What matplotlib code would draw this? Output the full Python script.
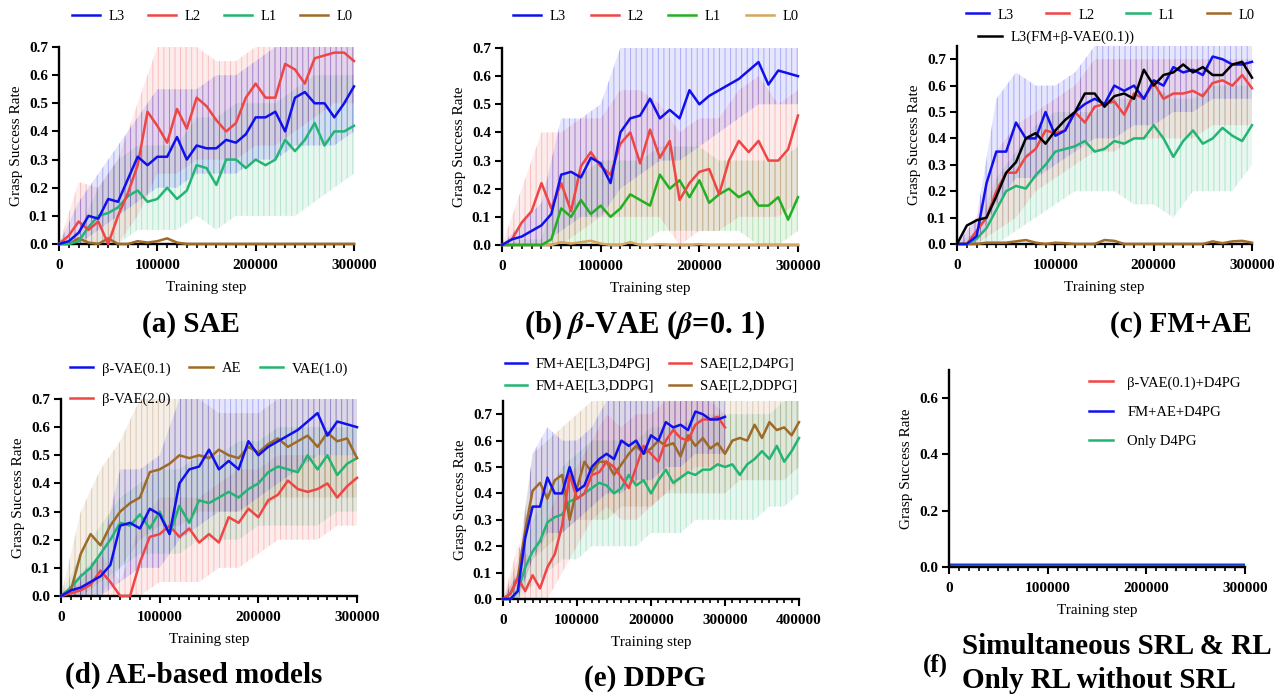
import matplotlib
matplotlib.use("Agg")
import matplotlib.pyplot as plt
import matplotlib.colors as mcolors
import numpy as np
from matplotlib.ticker import MultipleLocator, FormatStrFormatter

plt.rcParams['font.family'] = ['Liberation Serif', 'DejaVu Serif']
plt.rcParams['font.weight'] = 'bold'
plt.rcParams['mathtext.fontset'] = 'stix'
plt.rcParams['hatch.linewidth'] = 0.7

BLUE = '#1010EE'
RED = '#F04545'
GREEN = '#22B573'
GREEN_B = '#22B022'
BROWN = '#9E6A26'
TAN = '#D6A560'
BLACK = '#000000'

# sample grids (training steps)
STEPS_300 = np.arange(0, 300001, 10000)
STEPS_400 = np.arange(0, 400001, 10000)
RAW_300 = np.arange(0, 300001, 20000)
RAW_400 = np.arange(0, 400001, 20000)

# (a) SAE
A_L3 = [0.00, 0.01, 0.04, 0.10, 0.09, 0.16, 0.15, 0.23, 0.31, 0.28, 0.31, 0.31, 0.38, 0.30, 0.35, 0.34,
        0.34, 0.37, 0.36, 0.39, 0.45, 0.45, 0.47, 0.40, 0.52, 0.54, 0.50, 0.50, 0.45, 0.50, 0.56]
A_L2 = [0.00, 0.03, 0.08, 0.05, 0.08, 0.00, 0.10, 0.18, 0.28, 0.47, 0.42, 0.36, 0.48, 0.41, 0.52, 0.49,
        0.44, 0.40, 0.43, 0.52, 0.57, 0.52, 0.52, 0.64, 0.62, 0.57, 0.66, 0.67, 0.68, 0.68, 0.65]
A_L1 = [0.00, 0.00, 0.01, 0.06, 0.10, 0.11, 0.13, 0.17, 0.19, 0.15, 0.16, 0.20, 0.16, 0.19, 0.28, 0.27,
        0.21, 0.30, 0.30, 0.27, 0.30, 0.28, 0.30, 0.37, 0.33, 0.37, 0.43, 0.35, 0.40, 0.40, 0.42]
A_L0 = [0.00, 0.00, 0.02, 0.005, 0.00, 0.02, 0.00, 0.00, 0.01, 0.005, 0.01, 0.02, 0.005, 0.00, 0.00, 0.00,
        0.00, 0.00, 0.00, 0.00, 0.00, 0.00, 0.00, 0.00, 0.00, 0.00, 0.00, 0.00, 0.00, 0.00, 0.00]
A_L3_LO = [0, 0, 0.05, 0.10, 0.15, 0.20, 0.20, 0.25, 0.25, 0.25, 0.30, 0.30, 0.35, 0.35, 0.35, 0.40]
A_L3_HI = [0, 0.15, 0.25, 0.35, 0.45, 0.55, 0.55, 0.55, 0.60, 0.60, 0.65, 0.70, 0.70, 0.70, 0.70, 0.70]
A_L2_LO = [0, 0, 0, 0, 0.10, 0.25, 0.25, 0.30, 0.30, 0.30, 0.35, 0.35, 0.40, 0.45, 0.50, 0.50]
A_L2_HI = [0, 0.22, 0.20, 0.30, 0.50, 0.70, 0.70, 0.70, 0.65, 0.65, 0.70, 0.70, 0.70, 0.70, 0.70, 0.70]
A_L1_LO = [0, 0, 0, 0, 0.05, 0.05, 0.05, 0.10, 0.05, 0.10, 0.10, 0.10, 0.10, 0.15, 0.20, 0.25]
A_L1_HI = [0, 0.05, 0.20, 0.30, 0.35, 0.35, 0.35, 0.45, 0.45, 0.50, 0.50, 0.50, 0.55, 0.60, 0.60, 0.60]

# (b) beta-VAE (0.1)
B_L3 = [0.00, 0.02, 0.03, 0.05, 0.07, 0.11, 0.25, 0.26, 0.24, 0.31, 0.29, 0.22, 0.40, 0.45, 0.46, 0.52,
        0.45, 0.48, 0.45, 0.55, 0.50, 0.53, 0.55, 0.57, 0.59, 0.62, 0.65, 0.57, 0.62, 0.61, 0.60]
B_L2 = [0.00, 0.02, 0.08, 0.12, 0.22, 0.13, 0.22, 0.12, 0.28, 0.33, 0.28, 0.25, 0.36, 0.40, 0.29, 0.41,
        0.31, 0.37, 0.16, 0.22, 0.26, 0.27, 0.18, 0.30, 0.37, 0.33, 0.37, 0.30, 0.30, 0.34, 0.46]
B_L1 = [0.00, 0.00, 0.00, 0.00, 0.00, 0.02, 0.13, 0.10, 0.16, 0.11, 0.14, 0.10, 0.13, 0.18, 0.16, 0.14,
        0.25, 0.20, 0.23, 0.17, 0.23, 0.15, 0.18, 0.20, 0.17, 0.19, 0.14, 0.14, 0.17, 0.09, 0.17]
B_L0 = [0.00, 0.00, 0.00, 0.00, 0.00, 0.00, 0.01, 0.005, 0.01, 0.015, 0.005, 0.00, 0.00, 0.01, 0.00, 0.00,
        0.003, 0.00, 0.00, 0.00, 0.003, 0.00, 0.00, 0.00, 0.00, 0.00, 0.00, 0.00, 0.00, 0.00, 0.00]
B_L3_LO = [0, 0, 0, 0.05, 0.10, 0.10, 0.20, 0.25, 0.30, 0.30, 0.35, 0.40, 0.45, 0.50, 0.50, 0.50]
B_L3_HI = [0, 0.08, 0.15, 0.45, 0.45, 0.50, 0.70, 0.70, 0.70, 0.70, 0.70, 0.70, 0.70, 0.70, 0.70, 0.70]
B_L2_LO = [0, 0, 0, 0, 0.05, 0.10, 0.10, 0.10, 0.10, 0.00, 0.05, 0.05, 0.10, 0.10, 0.10, 0.15]
B_L2_HI = [0, 0.20, 0.40, 0.40, 0.45, 0.45, 0.55, 0.55, 0.50, 0.40, 0.45, 0.45, 0.55, 0.60, 0.50, 0.55]
B_L1_LO = [0, 0, 0, 0, 0, 0, 0, 0, 0.05, 0.05, 0.05, 0.05, 0.05, 0.00, 0.00, 0.05]
B_L1_HI = [0, 0.02, 0.02, 0.25, 0.25, 0.30, 0.30, 0.30, 0.35, 0.35, 0.35, 0.30, 0.30, 0.30, 0.30, 0.35]

# (c) FM+AE
C_L3 = [0.00, 0.00, 0.03, 0.23, 0.35, 0.35, 0.46, 0.40, 0.40, 0.50, 0.41, 0.43, 0.50, 0.53, 0.55, 0.53,
        0.60, 0.58, 0.60, 0.55, 0.62, 0.60, 0.67, 0.65, 0.66, 0.64, 0.71, 0.70, 0.68, 0.68, 0.69]
C_L2 = [0.00, 0.00, 0.05, 0.10, 0.20, 0.27, 0.27, 0.33, 0.36, 0.43, 0.42, 0.43, 0.50, 0.46, 0.52, 0.53,
        0.54, 0.49, 0.57, 0.55, 0.61, 0.55, 0.57, 0.57, 0.58, 0.56, 0.61, 0.62, 0.60, 0.64, 0.59]
C_L1 = [0.00, 0.00, 0.02, 0.06, 0.13, 0.20, 0.22, 0.21, 0.26, 0.30, 0.35, 0.36, 0.37, 0.39, 0.35, 0.36,
        0.39, 0.38, 0.40, 0.40, 0.45, 0.40, 0.33, 0.39, 0.43, 0.38, 0.40, 0.44, 0.41, 0.39, 0.45]
C_L0 = [0.00, 0.00, 0.00, 0.005, 0.005, 0.005, 0.01, 0.015, 0.005, 0.00, 0.005, 0.003, 0.00, 0.00, 0.00, 0.015,
        0.012, 0.00, 0.00, 0.00, 0.00, 0.00, 0.00, 0.00, 0.00, 0.00, 0.01, 0.003, 0.01, 0.012, 0.005]
C_FMB = [0.00, 0.07, 0.09, 0.10, 0.18, 0.27, 0.31, 0.40, 0.42, 0.38, 0.43, 0.47, 0.50, 0.57, 0.57, 0.52,
         0.56, 0.57, 0.55, 0.66, 0.60, 0.64, 0.65, 0.68, 0.65, 0.67, 0.64, 0.64, 0.68, 0.69, 0.63]
C_L3_LO = [0, 0, 0.15, 0.25, 0.25, 0.30, 0.35, 0.40, 0.40, 0.45, 0.45, 0.50, 0.50, 0.55, 0.55, 0.55]
C_L3_HI = [0, 0.10, 0.55, 0.65, 0.60, 0.60, 0.65, 0.75, 0.75, 0.75, 0.75, 0.75, 0.75, 0.75, 0.75, 0.75]
C_L2_LO = [0, 0, 0.05, 0.10, 0.20, 0.25, 0.30, 0.35, 0.35, 0.40, 0.40, 0.40, 0.40, 0.45, 0.45, 0.45]
C_L2_HI = [0, 0.10, 0.35, 0.45, 0.50, 0.55, 0.60, 0.70, 0.70, 0.70, 0.70, 0.70, 0.70, 0.70, 0.70, 0.70]
C_L1_LO = [0, 0, 0, 0.05, 0.10, 0.15, 0.20, 0.20, 0.20, 0.15, 0.15, 0.10, 0.20, 0.20, 0.20, 0.30]
C_L1_HI = [0, 0.05, 0.25, 0.35, 0.45, 0.50, 0.50, 0.50, 0.55, 0.55, 0.60, 0.55, 0.55, 0.60, 0.60, 0.60]

# (d) AE-based models
D_BETA01 = B_L3
D_AE = [0.00, 0.02, 0.15, 0.22, 0.18, 0.25, 0.30, 0.33, 0.35, 0.44, 0.45, 0.47, 0.50, 0.49, 0.50, 0.49,
        0.52, 0.50, 0.49, 0.53, 0.51, 0.54, 0.56, 0.53, 0.55, 0.57, 0.53, 0.58, 0.55, 0.56, 0.49]
D_VAE = [0.00, 0.03, 0.07, 0.10, 0.15, 0.20, 0.26, 0.25, 0.29, 0.24, 0.30, 0.22, 0.32, 0.26, 0.34, 0.33,
         0.35, 0.37, 0.35, 0.38, 0.40, 0.44, 0.46, 0.45, 0.44, 0.50, 0.45, 0.50, 0.43, 0.47, 0.49]
D_BETA20 = [0.00, 0.01, 0.02, 0.04, 0.09, 0.05, 0.00, 0.00, 0.12, 0.21, 0.22, 0.25, 0.21, 0.24, 0.19, 0.22,
            0.19, 0.28, 0.26, 0.31, 0.28, 0.34, 0.36, 0.41, 0.38, 0.37, 0.38, 0.40, 0.35, 0.39, 0.42]
D_AE_LO = [0, 0, 0.05, 0.10, 0.20, 0.25, 0.25, 0.30, 0.30, 0.30, 0.30, 0.35, 0.35, 0.35, 0.35, 0.35]
D_AE_HI = [0, 0.30, 0.45, 0.55, 0.70, 0.70, 0.70, 0.70, 0.65, 0.65, 0.65, 0.70, 0.70, 0.70, 0.70, 0.70]
D_VAE_LO = [0, 0, 0, 0.10, 0.15, 0.15, 0.15, 0.20, 0.20, 0.20, 0.25, 0.25, 0.25, 0.25, 0.30, 0.30]
D_VAE_HI = [0, 0.15, 0.25, 0.35, 0.40, 0.45, 0.45, 0.50, 0.50, 0.55, 0.55, 0.60, 0.60, 0.60, 0.60, 0.60]
D_B20_LO = [0, 0, 0, 0, 0, 0.05, 0.05, 0.05, 0.10, 0.10, 0.15, 0.20, 0.20, 0.20, 0.25, 0.25]
D_B20_HI = [0, 0.05, 0.15, 0.05, 0.25, 0.35, 0.35, 0.35, 0.40, 0.45, 0.45, 0.50, 0.50, 0.50, 0.50, 0.50]

# (e) DDPG
E_FMAE_D4PG = C_L3
E_SAE_D4PG = [0.00, 0.02, 0.08, 0.03, 0.09, 0.04, 0.12, 0.17, 0.28, 0.47, 0.38, 0.40, 0.47, 0.48, 0.52, 0.50,
              0.46, 0.42, 0.50, 0.58, 0.55, 0.52, 0.60, 0.64, 0.61, 0.60, 0.66, 0.68, 0.68, 0.69, 0.65]
E_FMAE_DDPG = [0.00, 0.00, 0.03, 0.12, 0.18, 0.22, 0.29, 0.31, 0.32, 0.37,
               0.38, 0.40, 0.42, 0.44, 0.43, 0.40, 0.42, 0.47, 0.43, 0.45,
               0.40, 0.45, 0.49, 0.44, 0.46, 0.48, 0.47, 0.49, 0.49, 0.51,
               0.50, 0.51, 0.47, 0.51, 0.53, 0.56, 0.53, 0.58, 0.52, 0.56, 0.61]
E_SAE_DDPG = [0.00, 0.02, 0.08, 0.26, 0.41, 0.44, 0.38, 0.45, 0.47, 0.30,
              0.42, 0.52, 0.48, 0.52, 0.52, 0.47, 0.51, 0.55, 0.58, 0.55,
              0.57, 0.60, 0.58, 0.59, 0.54, 0.62, 0.58, 0.61, 0.57, 0.59,
              0.55, 0.60, 0.61, 0.60, 0.66, 0.61, 0.67, 0.64, 0.65, 0.62, 0.67]
E_SAE_D4PG_LO = [0, 0, 0, 0, 0.10, 0.20, 0.30, 0.35, 0.30, 0.30, 0.35, 0.40, 0.45, 0.50, 0.50, 0.50]
E_SAE_D4PG_HI = [0, 0.20, 0.15, 0.30, 0.45, 0.50, 0.60, 0.70, 0.65, 0.70, 0.70, 0.75, 0.75, 0.75, 0.75, 0.70]
E_FMAE_DDPG_LO = [0, 0, 0.05, 0.10, 0.15, 0.15, 0.20, 0.20, 0.20, 0.20, 0.25, 0.25, 0.25, 0.30, 0.30, 0.30,
                  0.30, 0.30, 0.35, 0.35, 0.40]
E_FMAE_DDPG_HI = [0, 0.10, 0.30, 0.40, 0.50, 0.55, 0.60, 0.60, 0.60, 0.60, 0.65, 0.65, 0.65, 0.70, 0.70, 0.70,
                  0.70, 0.70, 0.70, 0.75, 0.75]
E_SAE_DDPG_LO = [0, 0, 0.15, 0.20, 0.25, 0.30, 0.30, 0.30, 0.35, 0.35, 0.35, 0.40, 0.40, 0.40, 0.40, 0.40,
                 0.45, 0.45, 0.45, 0.45, 0.50]
E_SAE_DDPG_HI = [0, 0.15, 0.55, 0.60, 0.65, 0.70, 0.75, 0.75, 0.75, 0.75, 0.75, 0.75, 0.75, 0.75, 0.75, 0.75,
                 0.75, 0.75, 0.75, 0.75, 0.75]

# (f) simultaneous SRL & RL / only RL
F_STEPS = [0, 300000]
F_BETA_D4PG = [0.002, 0.002]
F_FMAE_D4PG = [0.006, 0.006]
F_ONLY_D4PG = [0.010, 0.010]

W, H = 1287, 694
fig = plt.figure(figsize=(W / 100, H / 100), dpi=100)


def make_axes(left, right, bottom_px, top_px):
    return fig.add_axes([left / W, 1 - bottom_px / H, (right - left) / W, (bottom_px - top_px) / H])


def style(ax, xmax, ymax, ystep=0.1):
    ax.set_xlim(0, xmax)
    ax.set_ylim(0, ymax)
    for s in ['top', 'right']:
        ax.spines[s].set_visible(False)
    for s in ['left', 'bottom']:
        ax.spines[s].set_linewidth(1.7)
    ax.set_xticks(np.arange(0, xmax + 1, 100000))
    ax.set_yticks(np.arange(0, 0.701, ystep))
    ax.xaxis.set_minor_locator(MultipleLocator(10000))
    ax.xaxis.set_major_formatter(FormatStrFormatter('%d'))
    ax.yaxis.set_major_formatter(FormatStrFormatter('%.1f'))
    ax.tick_params(which='major', direction='out', length=5, width=1.5, labelsize=11)
    ax.tick_params(axis='x', which='major', pad=6)
    ax.tick_params(axis='y', which='major', pad=3)
    ax.tick_params(which='minor', direction='out', length=3, width=1.2)
    ax.set_xlabel('Training step', fontsize=11, labelpad=6)
    ax.set_ylabel('Grasp Success Rate', fontsize=11, labelpad=4)


def raw(ax, x, lo, hi, color):
    # faint envelope of the unsmoothed trace: light band with thin vertical strokes
    ax.fill_between(x, lo, hi, facecolor=mcolors.to_rgba(color, 0.10),
                    edgecolor=mcolors.to_rgba(color, 0.28), hatch='|||', lw=0)


def line(ax, x, y, color, label):
    return ax.plot(x, y, color=color, lw=1.8, label=label, clip_on=False, zorder=3)[0]


LEG = dict(frameon=False, prop={'weight': 'normal', 'size': 10.5}, handletextpad=0.6)

# (a)
ax = make_axes(59, 354, 244, 47)
raw(ax, RAW_300, A_L1_LO, A_L1_HI, GREEN)
raw(ax, RAW_300, A_L2_LO, A_L2_HI, RED)
raw(ax, RAW_300, A_L3_LO, A_L3_HI, BLUE)
h0 = line(ax, STEPS_300, A_L0, BROWN, 'L0')
h1 = line(ax, STEPS_300, A_L1, GREEN, 'L1')
h2 = line(ax, STEPS_300, A_L2, RED, 'L2')
h3 = line(ax, STEPS_300, A_L3, BLUE, 'L3')
style(ax, 300000, 0.7)
ax.legend(handles=[h3, h2, h1, h0], ncol=4, loc='center', bbox_to_anchor=(0.52, 1.155),
          handlelength=1.9, columnspacing=1.6, **LEG)

# (b)
ax = make_axes(502, 798, 245, 48)
raw(ax, RAW_300, B_L1_LO, B_L1_HI, GREEN_B)
raw(ax, RAW_300, B_L2_LO, B_L2_HI, RED)
raw(ax, RAW_300, B_L3_LO, B_L3_HI, BLUE)
h0 = line(ax, STEPS_300, B_L0, TAN, 'L0')
h1 = line(ax, STEPS_300, B_L1, GREEN_B, 'L1')
h2 = line(ax, STEPS_300, B_L2, RED, 'L2')
h3 = line(ax, STEPS_300, B_L3, BLUE, 'L3')
style(ax, 300000, 0.7)
ax.legend(handles=[h3, h2, h1, h0], ncol=4, loc='center', bbox_to_anchor=(0.52, 1.16),
          handlelength=1.9, columnspacing=1.7, **LEG)

# (c)
ax = make_axes(957, 1252, 244, 46)
raw(ax, RAW_300, C_L1_LO, C_L1_HI, GREEN)
raw(ax, RAW_300, C_L2_LO, C_L2_HI, RED)
raw(ax, RAW_300, C_L3_LO, C_L3_HI, BLUE)
h0 = line(ax, STEPS_300, C_L0, BROWN, 'L0')
h1 = line(ax, STEPS_300, C_L1, GREEN, 'L1')
h2 = line(ax, STEPS_300, C_L2, RED, 'L2')
h3 = line(ax, STEPS_300, C_L3, BLUE, 'L3')
hb = line(ax, STEPS_300, C_FMB, BLACK, 'L3(FM+β-VAE(0.1))')
style(ax, 300000, 0.75)
leg1 = ax.legend(handles=[h3, h2, h1, h0], ncol=4, loc='center', bbox_to_anchor=(0.52, 1.157),
                 handlelength=1.6, columnspacing=2.2, **LEG)
ax.add_artist(leg1)
ax.legend(handles=[hb], loc='center left', bbox_to_anchor=(0.028, 1.045), handlelength=1.6, **LEG)

# (d)
ax = make_axes(61, 357, 596, 399)
raw(ax, RAW_300, D_B20_LO, D_B20_HI, RED)
raw(ax, RAW_300, D_VAE_LO, D_VAE_HI, GREEN)
raw(ax, RAW_300, D_AE_LO, D_AE_HI, BROWN)
raw(ax, RAW_300, B_L3_LO, B_L3_HI, BLUE)
hr = line(ax, STEPS_300, D_BETA20, RED, 'β-VAE(2.0)')
hg = line(ax, STEPS_300, D_VAE, GREEN, 'VAE(1.0)')
hbr = line(ax, STEPS_300, D_AE, BROWN, 'AE')
hbl = line(ax, STEPS_300, D_BETA01, BLUE, 'β-VAE(0.1)')
style(ax, 300000, 0.7)
ax.legend(handles=[hbl, hr, hbr, hg], ncol=3, loc='center', bbox_to_anchor=(0.5, 1.076),
          handlelength=1.6, columnspacing=1.3, labelspacing=1.15, **LEG)

# (e)
ax = make_axes(503, 799, 599, 401)
raw(ax, RAW_400, E_FMAE_DDPG_LO, E_FMAE_DDPG_HI, GREEN)
raw(ax, RAW_400, E_SAE_DDPG_LO, E_SAE_DDPG_HI, BROWN)
raw(ax, RAW_300, E_SAE_D4PG_LO, E_SAE_D4PG_HI, RED)
raw(ax, RAW_300, C_L3_LO, C_L3_HI, BLUE)
hg = line(ax, STEPS_400, E_FMAE_DDPG, GREEN, 'FM+AE[L3,DDPG]')
hbr = line(ax, STEPS_400, E_SAE_DDPG, BROWN, 'SAE[L2,DDPG]')
hr = line(ax, STEPS_300, E_SAE_D4PG, RED, 'SAE[L2,D4PG]')
hbl = line(ax, STEPS_300, E_FMAE_D4PG, BLUE, 'FM+AE[L3,D4PG]')
style(ax, 400000, 0.75)
ax.legend(handles=[hbl, hg, hr, hbr], ncol=2, loc='center', bbox_to_anchor=(0.5, 1.13),
          handlelength=1.5, columnspacing=1.0, labelspacing=0.6, **LEG)

# (f)
ax = make_axes(949, 1245, 567, 370)
hg = ax.plot(F_STEPS, F_ONLY_D4PG, color=GREEN, lw=1.8, label='Only D4PG')[0]
hbl = ax.plot(F_STEPS, F_FMAE_D4PG, color=BLUE, lw=1.8, label='FM+AE+D4PG')[0]
hr = ax.plot(F_STEPS, F_BETA_D4PG, color=RED, lw=1.8, label='β-VAE(0.1)+D4PG')[0]
style(ax, 300000, 0.7, ystep=0.2)
ax.legend(handles=[hr, hbl, hg], loc='upper left', bbox_to_anchor=(0.43, 1.035),
          handlelength=1.6, labelspacing=1.1, frameon=False,
          prop={'weight': 'normal', 'size': 10.5}, handletextpad=1.0)

# sub captions
cap = dict(fontsize=21, fontweight='bold', ha='center', va='center')
fig.text(191 / W, 1 - 325 / H, '(a) SAE', **cap)
fig.text(645 / W, 1 - 325 / H, r'(b) $\mathbfit{\beta}$-VAE ($\mathbfit{\beta}$=0. 1)', fontsize=22,
         fontweight='bold', ha='center', va='center')
fig.text(1181 / W, 1 - 325 / H, '(c) FM+AE', **cap)
fig.text(194 / W, 1 - 675 / H, '(d) AE-based models', **cap)
fig.text(645 / W, 1 - 678 / H, '(e) DDPG', **cap)
fig.text(935 / W, 1 - 665 / H, '(f)', fontsize=18, fontweight='bold', ha='center', va='center')
fig.text(962 / W, 1 - 646 / H, 'Simultaneous SRL & RL', fontsize=21, fontweight='bold', ha='left', va='center')
fig.text(962 / W, 1 - 681 / H, 'Only RL without SRL', fontsize=21, fontweight='bold', ha='left', va='center')

fig.savefig('out.png', dpi=100)
